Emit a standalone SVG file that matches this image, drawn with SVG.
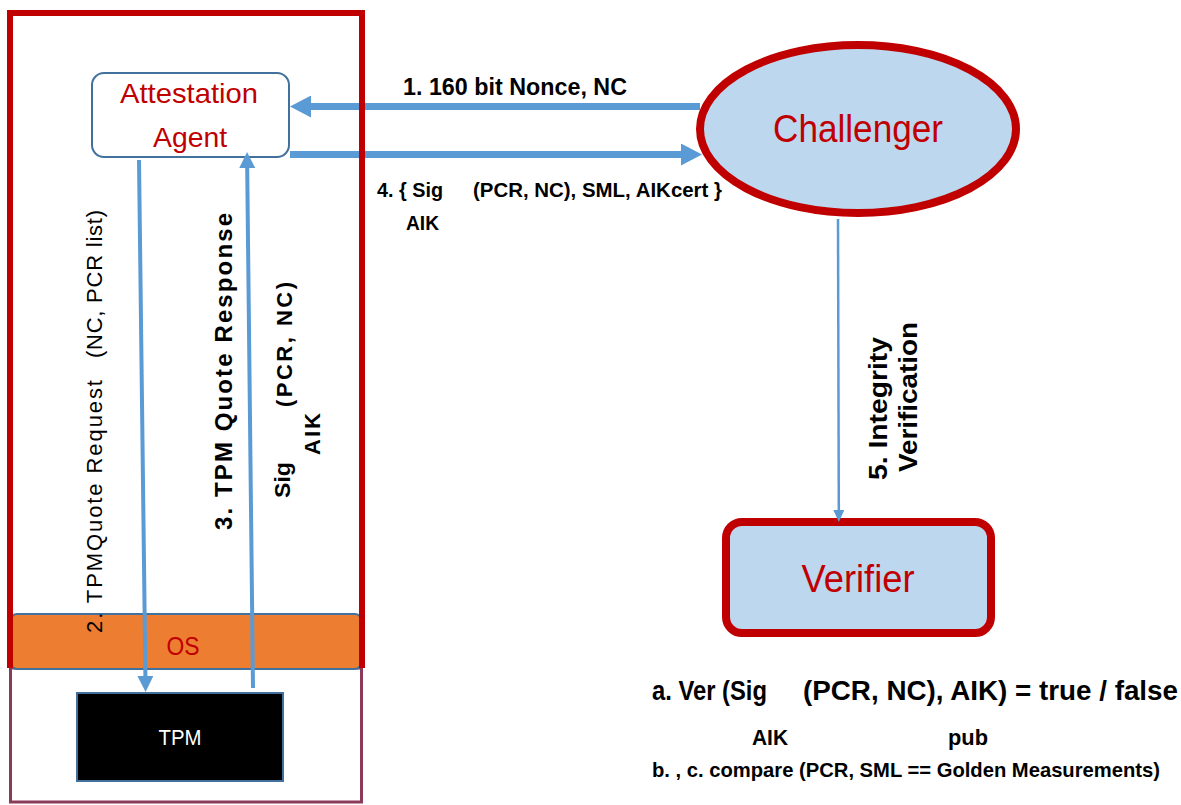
<svg xmlns="http://www.w3.org/2000/svg" width="1181" height="805" viewBox="0 0 1181 805">
<style>
.lbl{font-family:"Liberation Sans",Arial,sans-serif;fill:#000;}
.b{font-weight:bold;}
.red{font-family:"Liberation Sans",Arial,sans-serif;fill:#C00000;text-anchor:middle;}
.thick{stroke:#5B9BD5;stroke-width:7;fill:none;}
.mid{stroke:#5B9BD5;stroke-width:4;fill:none;}
.thin{stroke:#5B9BD5;stroke-width:2.5;fill:none;}
</style>
<defs>
<marker id="ahBig" markerUnits="userSpaceOnUse" markerWidth="21" markerHeight="22" viewBox="0 0 21 22" refX="0" refY="11" orient="auto"><path d="M0,0 L21,11 L0,22 z" fill="#5B9BD5"/></marker>
<marker id="ahMid" markerUnits="userSpaceOnUse" markerWidth="16" markerHeight="16" viewBox="0 0 16 16" refX="0" refY="8" orient="auto"><path d="M0,0 L16,8 L0,16 z" fill="#5B9BD5"/></marker>
<marker id="ahSmall" markerUnits="userSpaceOnUse" markerWidth="12" markerHeight="11" viewBox="0 0 12 11" refX="0" refY="5.5" orient="auto"><path d="M0,0 L12,5.5 L0,11 z" fill="#5B9BD5"/></marker>
</defs>
<rect width="1181" height="805" fill="#fff"/>

<g id="platform-lower">
<rect x="10.5" y="668" width="351" height="134" fill="#fff" stroke="#8B3A5A" stroke-width="3"/>
</g>

<g id="attestation-agent">
<rect x="92" y="73" width="197" height="84" rx="12" fill="#fff" stroke="#41719C" stroke-width="2"/>
<text class="red" x="189" y="103" font-size="28" textLength="138" lengthAdjust="spacingAndGlyphs">Attestation</text>
<text class="red" x="190" y="147" font-size="28" textLength="74" lengthAdjust="spacingAndGlyphs">Agent</text>
</g>

<g id="os">
<rect x="11" y="614" width="350" height="55" rx="6" fill="#ED7D31" stroke="#41719C" stroke-width="2"/>
<text class="red" x="183" y="655" font-size="26" textLength="33" lengthAdjust="spacingAndGlyphs">OS</text>
</g>

<g id="tpm">
<rect x="77" y="693" width="206" height="88" fill="#000" stroke="#41719C" stroke-width="2"/>
<text x="180" y="745" font-family="'Liberation Sans',Arial,sans-serif" font-size="22" fill="#fff" text-anchor="middle" textLength="43" lengthAdjust="spacingAndGlyphs">TPM</text>
</g>

<g id="challenger">
<ellipse cx="858" cy="129" rx="158" ry="84" fill="#BDD7EE" stroke="#C00000" stroke-width="8"/>
<text class="red" x="858" y="142" font-size="38" textLength="170" lengthAdjust="spacingAndGlyphs">Challenger</text>
</g>

<g id="verifier">
<rect x="726" y="522" width="265" height="111" rx="16" fill="#BDD7EE" stroke="#C00000" stroke-width="8"/>
<text class="red" x="858" y="592" font-size="38" textLength="113" lengthAdjust="spacingAndGlyphs">Verifier</text>
</g>

<g id="connectors">
<line class="thick" x1="700" y1="106.5" x2="311" y2="106.5" marker-end="url(#ahBig)"/>
<line class="thick" x1="290" y1="154.5" x2="681" y2="154.5" marker-end="url(#ahBig)"/>
<line class="mid" x1="139" y1="160" x2="145.4" y2="676" marker-end="url(#ahMid)"/>
<line class="mid" x1="253" y1="688" x2="247.2" y2="168" marker-end="url(#ahMid)"/>
<line class="thin" x1="838" y1="219" x2="838.8" y2="510" marker-end="url(#ahSmall)"/>
</g>

<g id="device-frame">
<path d="M10,668 L10,13 L362,13 L362,668" fill="none" stroke="#C00000" stroke-width="6"/>
</g>

<g id="labels">
<text class="lbl b" x="403" y="95" font-size="23" textLength="224" lengthAdjust="spacingAndGlyphs">1. 160 bit Nonce, NC</text>
<text class="lbl b" x="377" y="197" font-size="21" textLength="66" lengthAdjust="spacingAndGlyphs">4. { Sig</text>
<text class="lbl b" x="473" y="197" font-size="21" textLength="249" lengthAdjust="spacingAndGlyphs">(PCR, NC), SML, AIKcert }</text>
<text class="lbl b" x="406" y="230" font-size="21" textLength="33" lengthAdjust="spacingAndGlyphs">AIK</text>

<text class="lbl" x="102" y="633" font-size="22" transform="rotate(-90 102 633)" textLength="253">2. TPMQuote Request</text>
<text class="lbl" x="102" y="358" font-size="22" transform="rotate(-90 102 358)" textLength="148">(NC, PCR list)</text>

<text class="lbl b" x="232" y="530" font-size="24" transform="rotate(-90 232 530)" textLength="317">3. TPM Quote Response</text>
<text class="lbl b" x="290" y="498" font-size="22" transform="rotate(-90 290 498)" textLength="36" lengthAdjust="spacingAndGlyphs">Sig</text>
<text class="lbl b" x="292" y="407" font-size="22" transform="rotate(-90 292 407)" textLength="125">(PCR, NC)</text>
<text class="lbl b" x="320" y="455" font-size="22" transform="rotate(-90 320 455)" textLength="42">AIK</text>

<text class="lbl b" x="887" y="480" font-size="26" transform="rotate(-90 887 480)" textLength="143" lengthAdjust="spacingAndGlyphs">5. Integrity</text>
<text class="lbl b" x="917" y="472" font-size="26" transform="rotate(-90 917 472)" textLength="150" lengthAdjust="spacingAndGlyphs">Verification</text>

<text class="lbl b" x="652" y="700" font-size="27" textLength="115" lengthAdjust="spacingAndGlyphs">a. Ver (Sig</text>
<text class="lbl b" x="803" y="700" font-size="27" textLength="375" lengthAdjust="spacingAndGlyphs">(PCR, NC), AIK) = true / false</text>
<text class="lbl b" x="752" y="745" font-size="22" textLength="36" lengthAdjust="spacingAndGlyphs">AIK</text>
<text class="lbl b" x="948" y="745" font-size="22" textLength="40" lengthAdjust="spacingAndGlyphs">pub</text>
<text class="lbl b" x="652" y="777" font-size="21" textLength="508" lengthAdjust="spacingAndGlyphs">b. , c. compare (PCR, SML == Golden Measurements)</text>
</g>
</svg>
